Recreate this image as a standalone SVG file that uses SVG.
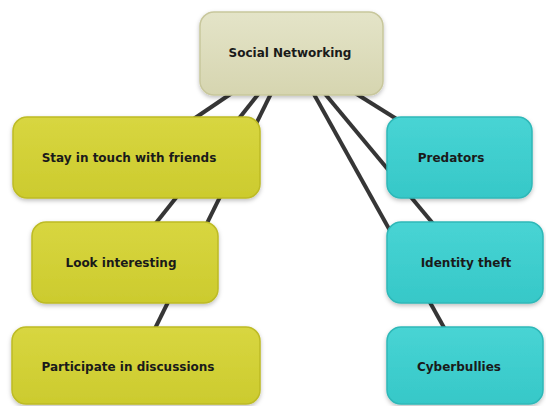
<svg xmlns="http://www.w3.org/2000/svg" width="546" height="406" viewBox="0 0 546 406">
<defs>
<filter id="sh" x="-10%" y="-10%" width="120%" height="130%">
<feDropShadow dx="0" dy="2" stdDeviation="2" flood-color="#000" flood-opacity="0.25"/>
</filter>
<linearGradient id="gBeige" x1="0" y1="0" x2="0" y2="1">
<stop offset="0" stop-color="#e4e4c8"/><stop offset="1" stop-color="#d6d5b0"/>
</linearGradient>
<linearGradient id="gYel" x1="0" y1="0" x2="0" y2="1">
<stop offset="0" stop-color="#d8d640"/><stop offset="1" stop-color="#cccb2e"/>
</linearGradient>
<linearGradient id="gCyan" x1="0" y1="0" x2="0" y2="1">
<stop offset="0" stop-color="#48d4d4"/><stop offset="1" stop-color="#36c8c8"/>
</linearGradient>
</defs>
<style>
.box{filter:url(#sh);stroke-width:1.5}
.root{fill:url(#gBeige);stroke:#c8c79c}
.yel{fill:url(#gYel);stroke:#bdbb25}
.cy{fill:url(#gCyan);stroke:#2fb8b8}
.lbl{font-family:"DejaVu Sans",Verdana,sans-serif;font-weight:bold;font-size:12px;fill:#1a1a1a;text-anchor:middle}
.edge{stroke:#363636;stroke-width:4;stroke-linecap:butt;fill:none}
</style>
<rect width="546" height="406" fill="#ffffff"/>
<g id="connectors">
<line class="edge" x1="291" y1="53" x2="136" y2="158"/>
<line class="edge" x1="291" y1="53" x2="125" y2="262"/>
<line class="edge" x1="291" y1="53" x2="136" y2="367"/>
<line class="edge" x1="291" y1="53" x2="459" y2="158"/>
<line class="edge" x1="291" y1="53" x2="465" y2="262"/>
<line class="edge" x1="291" y1="53" x2="466" y2="367"/>
</g>
<g id="social-networking">
<rect class="box root" x="200" y="12" width="183" height="83" rx="14"/>
<text class="lbl" x="290" y="57">Social Networking</text>
</g>
<g id="stay-in-touch">
<rect class="box yel" x="13" y="117" width="247" height="81" rx="14"/>
<text class="lbl" x="129" y="162">Stay in touch with friends</text>
</g>
<g id="look-interesting">
<rect class="box yel" x="32" y="222" width="186" height="81" rx="14"/>
<text class="lbl" x="121" y="267">Look interesting</text>
</g>
<g id="participate">
<rect class="box yel" x="12" y="327" width="248" height="77" rx="14"/>
<text class="lbl" x="128" y="371">Participate in discussions</text>
</g>
<g id="predators">
<rect class="box cy" x="387" y="117" width="145" height="81" rx="14"/>
<text class="lbl" x="451" y="162">Predators</text>
</g>
<g id="identity-theft">
<rect class="box cy" x="387" y="222" width="156" height="81" rx="14"/>
<text class="lbl" x="466" y="267">Identity theft</text>
</g>
<g id="cyberbullies">
<rect class="box cy" x="387" y="327" width="156" height="77" rx="14"/>
<text class="lbl" x="459" y="371">Cyberbullies</text>
</g>
</svg>
